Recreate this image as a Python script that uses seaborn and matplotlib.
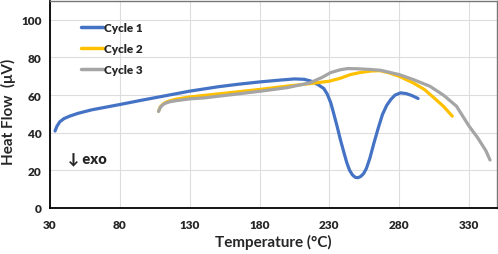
import matplotlib
matplotlib.use("Agg")
import matplotlib.pyplot as plt
import seaborn as sns
import pandas as pd
from matplotlib.lines import Line2D

c1_t = [33.6, 35, 37, 40, 44, 50, 60, 70, 80, 95, 110, 130, 150, 165, 180, 195, 205, 212, 217, 222, 226, 228.5,
        231, 233, 235.5, 238, 240.4, 242.5, 244.5, 246.5, 248.5, 250.5, 252.5, 254.5, 256.5, 259, 262, 265, 268,
        271, 274, 277, 281, 285, 289, 293.5]
c1_v = [40.9, 43.5, 45.8, 47.5, 48.8, 50.3, 52.2, 53.6, 55, 57.2, 59.3, 62.1, 64.4, 65.8, 67, 68, 68.6, 68.4, 67.4,
        65.5, 63.5, 60.5, 55.9, 50.5, 43.5, 36, 29.5, 24, 20, 17.6, 16.3, 16.1, 16.8, 18.3, 21, 26.5, 34.8, 42.5,
        49.7, 54.5, 57.7, 60, 61.2, 60.8, 59.8, 58.2]

c2_t = [107.7, 109, 111, 113, 116, 120, 130, 140, 155, 180, 200, 215, 230, 238, 245, 252, 259.6, 266, 272, 280,
        290, 298, 305, 312, 318]
c2_v = [51.5, 53.8, 55.3, 56.2, 57, 57.8, 59, 59.8, 61, 63, 64.8, 66, 67.4, 69, 70.9, 72, 72.8, 73, 72, 70,
        66.5, 63, 58.5, 53.8, 48.8]

c3_t = [107.7, 109, 111, 113, 116, 120, 130, 140, 155, 180, 200, 216, 225, 231, 238, 243, 250, 258, 266.7, 280,
        290, 302, 312, 321, 330, 336, 342, 345]
c3_v = [51.3, 53.5, 55, 55.8, 56.5, 57, 58, 58.5, 59.8, 62, 64, 66.5, 69.5, 72, 73.5, 74.1, 74, 73.7, 73.2, 70.9,
        68.3, 64.7, 59.8, 54.1, 43.5, 37.5, 30.5, 25.5]

series_names = ["Cycle 1", "Cycle 2", "Cycle 3"]
colors = ["#4472C4", "#FFC000", "#A5A5A5"]
x_ticks = [30, 80, 130, 180, 230, 280, 330]
y_ticks = [0, 20, 40, 60, 80, 100]

frames = []
for name, t, v in zip(series_names, [c1_t, c2_t, c3_t], [c1_v, c2_v, c3_v]):
    frames.append(pd.DataFrame({"T": t, "V": v, "Series": name}))
df = pd.concat(frames, ignore_index=True)

sns.set_theme(style="white")
plt.rcParams['font.family'] = ['Lato', 'DejaVu Sans']
plt.rcParams['font.weight'] = 'bold'

fig = plt.figure(figsize=(4.98, 2.55), dpi=100)
ax = fig.add_axes([0.1004, 0.1804, 0.8976, 0.8116])

sns.lineplot(data=df, x="T", y="V", hue="Series", palette=dict(zip(series_names, colors)),
             sort=False, estimator=None, units="Series", lw=2.3, ax=ax, legend=False)

ax.set_xlim(30, 350)
ax.set_ylim(0, 110)
ax.set_xticks(x_ticks)
ax.set_yticks(y_ticks)
ax.set_xticklabels([str(v) for v in x_ticks], fontsize=8.5, fontweight='heavy')
ax.set_yticklabels([str(v) for v in y_ticks], fontsize=8.5, fontweight='heavy')
ax.grid(True, color="#DDDDDD", lw=0.8)
ax.set_axisbelow(True)
ax.tick_params(axis='x', direction='in', length=4, width=1, color='black', pad=8)
ax.tick_params(axis='y', direction='in', length=3, width=1, color='black', pad=6)

for s in ['top', 'right']:
    ax.spines[s].set_color('#777777')
    ax.spines[s].set_linewidth(1.0)
for s in ['left', 'bottom']:
    ax.spines[s].set_color('black')
    ax.spines[s].set_linewidth(1.3)

ax.set_xlabel("Temperature (°C)", fontsize=11, fontweight='bold', labelpad=3)
ax.set_ylabel("Heat Flow  (μV)", fontsize=11, fontweight='bold')
ax.yaxis.set_label_coords(-0.076, 0.47)

handles = [Line2D([0], [0], color=c, lw=2.5) for c in colors]
leg = ax.legend(handles, series_names, loc='upper left', bbox_to_anchor=(0.045, 0.95), frameon=False,
                handlelength=1.9, handletextpad=0.1, labelspacing=0.85, prop={'size': 8.5, 'weight': 'heavy'})

ax.text(43, 26, "↓ exo", fontsize=10.5, fontweight='heavy', ha='left', va='center')

fig.savefig("out.png", dpi=100)
